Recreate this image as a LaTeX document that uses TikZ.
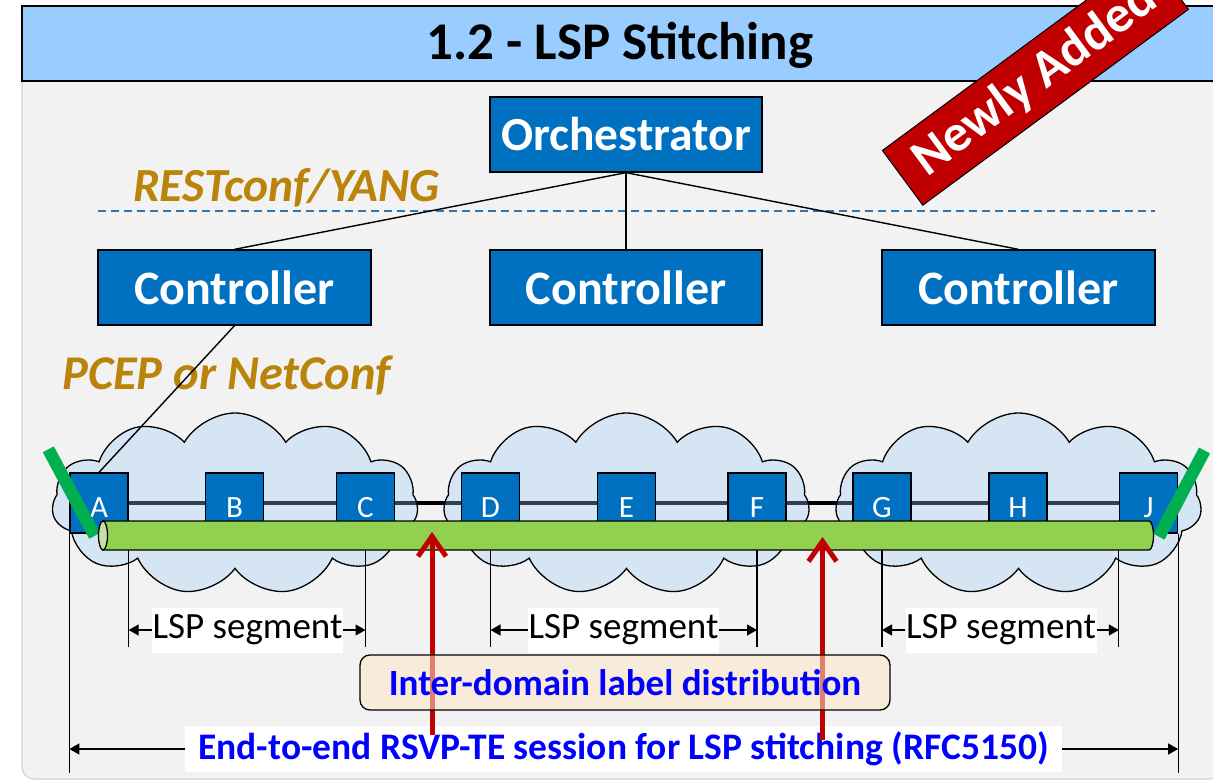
\documentclass[tikz,border=0pt]{standalone}
\usepackage{fontspec}
\setmainfont{Carlito}
\usetikzlibrary{shapes.symbols,arrows.meta}

\definecolor{headerblue}{HTML}{99CCFF}
\definecolor{panelgrey}{HTML}{F2F2F2}
\definecolor{panelline}{HTML}{D9D9D9}
\definecolor{boxblue}{HTML}{0070C0}
\definecolor{protogold}{HTML}{BA830A}
\definecolor{dashblue}{HTML}{2E75B6}
\definecolor{cloudblue}{HTML}{D6E5F4}
\definecolor{linkslate}{HTML}{333F50}
\definecolor{pipegreen}{HTML}{92D050}
\definecolor{pipeend}{HTML}{C5E0A4}
\definecolor{slashgreen}{HTML}{00B050}
\definecolor{alertred}{HTML}{C00000}
\definecolor{notefill}{HTML}{FDE6C8}
\definecolor{labelblue}{HTML}{0000FF}

\newcommand{\fsz}[1]{\fontsize{#1}{#1}\selectfont}

\begin{document}
\begin{tikzpicture}[x=1pt,y=-1pt,
  mgmt/.style={draw=black, line width=1.3pt, fill=boxblue, text=white,
    font=\fsz{48}\bfseries, minimum width=272pt, minimum height=75pt, inner sep=0pt},
  router/.style={draw=black, line width=1.3pt, fill=boxblue, text=white,
    font=\fsz{31}, minimum width=58pt, minimum height=60pt, inner sep=0pt,
    text height=28pt, text depth=0pt},
  netcloud/.style={cloud, cloud puffs=11, cloud puff arc=120, aspect=2,
    draw=black, line width=1.3pt, fill=cloudblue,
    minimum width=366pt, minimum height=182pt, inner sep=0pt,
    path picture={\draw[linkslate, line width=3.5pt] (pA) -- (pJ);}},
  proto/.style={text=protogold, font=\fsz{47.5}\bfseries\itshape, anchor=base west, inner sep=0pt},
  tie/.style={draw=black, line width=1.4pt},
  dim/.style={draw=black, line width=1.2pt},
  dimarrow/.style={draw=black, line width=1.2pt, -{Triangle[length=10pt,width=11pt]}},
  seglabel/.style={fill=white, font=\fsz{37}, inner sep=0pt,
    minimum width=191pt, minimum height=45pt},
  hint/.style={draw=alertred, line width=5pt, -{Straight Barb[length=20pt,width=28pt]}},
]
% canvas
\clip (0,0) rectangle (1213,783);
\fill[white] (0,0) rectangle (1213,783);

% panel and header bar
\draw[draw=panelline, line width=1.5pt, fill=panelgrey, rounded corners=12pt]
  (22,6) rectangle (1221,779);
\draw[draw=black, line width=2pt, fill=headerblue] (22,6) rectangle (1230,81);
\node[font=\fsz{53}\bfseries] (title) at (620,45) {1.2 - LSP Stitching};

% protocol captions
\node[proto] (rest) at (133,202) {RESTconf/YANG};
\node[proto, font=\fsz{48.5}\bfseries\itshape] (pcep) at (62,390) {PCEP or NetConf};

% separator between orchestration and control layers
\coordinate (sepL) at (98,211);
\coordinate (sepR) at (1155,211);
\draw[dashblue, line width=1.5pt, dash pattern=on 8pt off 5pt] (sepL) -- (sepR);

% orchestrator and domain controllers
\node[mgmt, font=\fsz{47.5}\bfseries] (orch) at (626,134.5) {Orchestrator};
\node[mgmt, minimum width=273pt] (ctl1) at (234.5,287.5) {Controller};
\node[mgmt] (ctl2) at (626,287.5) {Controller};
\node[mgmt, minimum width=273pt] (ctl3) at (1018.5,287.5) {Controller};

% router positions
\coordinate (pA) at (99,503);
\coordinate (pB) at (234.5,503);
\coordinate (pC) at (365.5,503);
\coordinate (pD) at (490.5,503);
\coordinate (pE) at (626.5,503);
\coordinate (pF) at (757,503);
\coordinate (pG) at (882,503);
\coordinate (pH) at (1018,503);
\coordinate (pJ) at (1148.5,503);

% inter-domain links (inside each domain redrawn in slate)
\draw[black, line width=3.5pt] (pA) -- (pJ);

% domains
\node[netcloud] (dom1) at (235,504) {};
\node[netcloud] (dom2) at (626.5,504) {};
\node[netcloud] (dom3) at (1018.5,504) {};

% control connections
\draw[tie] (orch.south) -- (ctl1.north);
\draw[tie] (orch.south) -- (ctl2.north);
\draw[tie] (orch.south) -- (ctl3.north);

% routers
\node[router] (A) at (pA) {A};
\node[router] (B) at (pB) {B};
\node[router] (C) at (pC) {C};
\node[router] (D) at (pD) {D};
\node[router] (E) at (pE) {E};
\node[router] (F) at (pF) {F};
\node[router] (G) at (pG) {G};
\node[router] (H) at (pH) {H};
\node[router] (J) at (pJ) {J};

\draw[tie] (ctl1.south) -- (A.north);

% extension lines for the dimension arrows
\coordinate (floor) at (0,773);
\coordinate (segfloor) at (0,647);
\draw[dim] (A.south west) -- (A.south west |- floor);
\draw[dim] (A.south east) -- (A.south east |- segfloor);
\draw[dim] (C.south) -- (C.south |- segfloor);
\draw[dim] (D.south) -- (D.south |- segfloor);
\draw[dim] (F.south) -- (F.south |- segfloor);
\draw[dim] (G.south) -- (G.south |- segfloor);
\draw[dim] (J.south west) -- (J.south west |- segfloor);
\draw[dim] (J.south east) -- (J.south east |- floor);

% end-point markers and the stitched LSP
\draw[slashgreen, line width=12.5pt] (48.3,449.3) -- (94.7,535.8);
\draw[line width=1.3pt, fill=pipegreen] (103,521) -- (1149,521)
  arc[start angle=90, end angle=-90, x radius=4.5pt, y radius=14.5pt] -- (103,550) -- cycle;
\draw[line width=1.3pt, fill=pipeend] (103,535.5) ellipse[x radius=4.5pt, y radius=14.5pt];
\draw[slashgreen, line width=12.5pt] (1204.5,450.5) -- (1159,536.7);

% LSP segments
\node[seglabel] (seg1) at (247.5,630) {LSP segment};
\draw[dimarrow] (seg1.west) -- (seg1.west -| A.south east);
\draw[dimarrow] (seg1.east) -- (seg1.east -| C.south);
\node[seglabel] (seg2) at (623.5,630) {LSP segment};
\draw[dimarrow] (seg2.west) -- (seg2.west -| D.south);
\draw[dimarrow] (seg2.east) -- (seg2.east -| F.south);
\node[seglabel] (seg3) at (1001,630) {LSP segment};
\draw[dimarrow] (seg3.west) -- (seg3.west -| G.south);
\draw[dimarrow] (seg3.east) -- (seg3.east -| J.south west);

% end-to-end session
\node[fill=white, inner sep=0pt, minimum width=877pt, minimum height=46pt,
  font=\fsz{37.5}\bfseries, text=labelblue] (e2e) at (623.5,749)
  {End-to-end RSVP-TE session for LSP stitching (RFC5150)};
\draw[dimarrow] (e2e.west) -- (e2e.west -| A.south west);
\draw[dimarrow] (e2e.east) -- (e2e.east -| J.south east);

% stitching points
\coordinate (r1base) at (432,735);
\coordinate (r1tip) at (432,532);
\coordinate (r2base) at (822.5,740);
\coordinate (r2tip) at (822.5,537);
\draw[hint] (r1base) -- (r1tip);
\draw[hint] (r2base) -- (r2tip);

% label distribution note
\node[draw=black, line width=1.3pt, rounded corners=10pt, fill=notefill, fill opacity=0.55,
  text opacity=1, minimum width=530pt, minimum height=55pt, inner sep=0pt,
  font=\fsz{37}\bfseries, text=labelblue] (note) at (625,682.5)
  {Inter-domain label distribution};

% badge
\node[rotate=36.4, fill=alertred, draw=black, line width=1pt, minimum width=330pt,
  minimum height=68pt, inner sep=0pt, text=white, font=\fsz{52}\bfseries]
  (badge) at (1035.4,79.9) {Newly Added};
\end{tikzpicture}
\end{document}
